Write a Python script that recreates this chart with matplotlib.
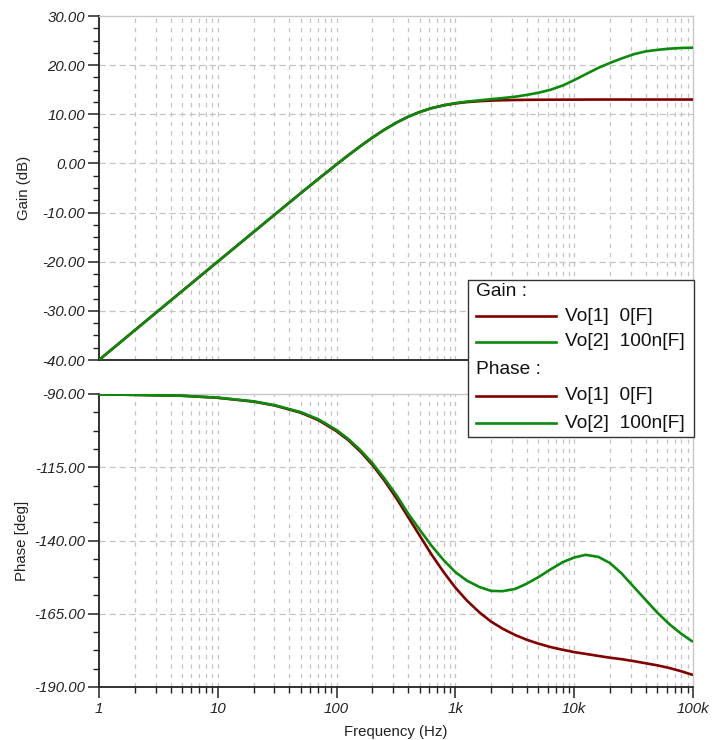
import matplotlib
matplotlib.use("Agg")
import matplotlib.pyplot as plt
from matplotlib.ticker import FixedLocator, NullFormatter, LogLocator, FuncFormatter
from matplotlib.lines import Line2D
from matplotlib.patches import Rectangle

plt.rcParams['font.family'] = ['Liberation Sans', 'DejaVu Sans']

# Frequency sweep (Hz)
freq = [1, 2, 5, 10, 20, 30, 50, 70,
        100, 125, 160, 200, 250, 320, 400, 500, 630, 800,
        1000, 1250, 1600, 2000, 2500, 3200, 4000, 5000, 6300, 8000,
        10000, 12500, 16000, 20000, 25000, 32000, 40000, 50000, 63000, 80000,
        100000]

# Gain (dB)
gain_vo1 = [-40.0, -33.95, -25.99, -19.97, -13.96, -10.45, -6.04, -3.18,
            -0.19, 1.64, 3.58, 5.25, 6.80, 8.32, 9.50, 10.46, 11.24, 11.82,
            12.21, 12.48, 12.67, 12.79, 12.86, 12.91, 12.94, 12.96, 12.97, 12.98,
            12.98, 12.99, 13.0, 13.0, 13.0, 13.0, 13.0, 13.0, 13.0, 13.0,
            13.0]
gain_vo2 = [-40.0, -33.95, -25.99, -19.97, -13.96, -10.45, -6.04, -3.18,
            -0.19, 1.64, 3.58, 5.25, 6.80, 8.32, 9.50, 10.46, 11.25, 11.85,
            12.28, 12.58, 12.84, 13.08, 13.3, 13.58, 13.95, 14.38, 14.98, 15.85,
            16.95, 18.15, 19.45, 20.45, 21.35, 22.25, 22.8, 23.1, 23.35, 23.5,
            23.55]

# Phase (deg)
phase_vo1 = [-90.1, -90.3, -90.6, -91.3, -92.6, -93.9, -96.4, -98.9,
             -102.7, -105.7, -109.8, -114.2, -119.3, -125.7, -132.0, -138.3, -144.8, -150.9,
             -156.1, -160.5, -164.6, -167.7, -170.1, -172.3, -173.9, -175.2, -176.35, -177.3,
             -178.1, -178.7, -179.4, -180.0, -180.5, -181.2, -181.9, -182.6, -183.5, -184.65,
             -185.9]
phase_vo2 = [-90.1, -90.3, -90.6, -91.25, -92.5, -93.8, -96.2, -98.6,
             -102.3, -105.3, -109.3, -113.6, -118.6, -124.6, -130.8, -136.3, -141.8, -146.8,
             -150.8, -153.7, -155.9, -157.2, -157.3, -156.5, -154.7, -152.5, -149.9, -147.4,
             -145.8, -144.9, -145.6, -147.7, -151.2, -156.0, -160.3, -164.6, -168.5, -171.9,
             -174.6]

gain_ticks = [30, 20, 10, 0, -10, -20, -30, -40]
phase_ticks = [-90, -115, -140, -165, -190]
freq_ticks = [1, 10, 100, 1000, 10000, 100000]
freq_labels = ['1', '10', '100', '1k', '10k', '100k']

RED = '#820000'
GREEN = '#0b8a0b'
GRID = '#c4c4c4'
W, H = 722, 740

fig = plt.figure(figsize=(W / 100, H / 100), dpi=100)


def px_rect(l, t, r, b):
    return [l / W, 1 - b / H, (r - l) / W, (b - t) / H]


ax_g = fig.add_axes(px_rect(99, 16, 693, 360))
ax_p = fig.add_axes(px_rect(99, 394, 693, 687))

tick_font = dict(family='Liberation Sans', style='italic', size=10.8)


def style_axes(ax, yticks, ylim, minor_step, show_x):
    ax.set_xscale('log')
    ax.set_xlim(1, 100000)
    ax.set_ylim(*ylim)
    ax.yaxis.set_major_locator(FixedLocator(yticks))
    lo, hi = min(ylim), max(ylim)
    minors = []
    v = lo
    while v <= hi + 1e-9:
        minors.append(v)
        v += minor_step
    ax.yaxis.set_minor_locator(FixedLocator(minors))
    ax.yaxis.set_major_formatter(FuncFormatter(lambda v, p: f"{v:.2f}"))
    ax.yaxis.set_minor_formatter(NullFormatter())
    ax.xaxis.set_major_locator(FixedLocator(freq_ticks))
    ax.xaxis.set_minor_locator(LogLocator(base=10, subs=range(2, 10), numticks=20))
    ax.xaxis.set_minor_formatter(NullFormatter())
    ax.tick_params(axis='y', which='major', direction='out', length=8, width=1.1,
                   pad=2, colors='#222222', labelcolor='#222222')
    ax.tick_params(axis='y', which='minor', direction='out', length=4, width=1.0,
                   colors='#222222')
    for lbl in ax.get_yticklabels():
        lbl.set_fontproperties(tick_font)
    # dashed grid
    for yv in yticks:
        if yv != lo and yv != hi:
            ax.axhline(yv, color=GRID, lw=0.9, ls=(0, (5, 3)), zorder=0)
    for dec in [1, 10, 100, 1000, 10000]:
        for m in range(1, 10):
            x = dec * m
            if x == 1:
                continue
            ax.axvline(x, color=GRID, lw=0.9, ls=(0, (3.5, 4)), zorder=0)
    ax.spines['left'].set_color('#222222')
    ax.spines['left'].set_linewidth(1.3)
    ax.spines['top'].set_color('#c8c8c8')
    ax.spines['top'].set_linewidth(1.0)
    ax.spines['right'].set_color('#c8c8c8')
    ax.spines['right'].set_linewidth(1.0)
    ax.spines['bottom'].set_color('#222222')
    ax.spines['bottom'].set_linewidth(1.3)
    if show_x:
        ax.xaxis.set_major_formatter(FuncFormatter(
            lambda v, p: freq_labels[freq_ticks.index(int(round(v)))] if int(round(v)) in freq_ticks else ''))
        ax.tick_params(axis='x', which='major', direction='out', length=8, width=1.1,
                       pad=3, colors='#222222')
        ax.tick_params(axis='x', which='minor', direction='out', length=4, width=1.0,
                       colors='#222222')
        for lbl in ax.get_xticklabels():
            lbl.set_fontproperties(tick_font)
    else:
        ax.tick_params(axis='x', which='both', length=0, labelbottom=False)


style_axes(ax_g, gain_ticks, (-40, 30), 2.5, False)
style_axes(ax_p, phase_ticks, (-190, -90), 6.25, True)

line_kw = dict(lw=1.9, solid_capstyle='butt', solid_joinstyle='round')
ax_g.plot(freq, gain_vo1, color=RED, zorder=3, **line_kw)
ax_g.plot(freq, gain_vo2, color=GREEN, zorder=4, **line_kw)
ax_p.plot(freq, phase_vo1, color=RED, zorder=3, **line_kw)
ax_p.plot(freq, phase_vo2, color=GREEN, zorder=4, **line_kw)

label_font = dict(family='Liberation Sans', size=10.8, color='#222222')
ax_g.set_ylabel('Gain (dB)', labelpad=8, **label_font)
ax_p.set_ylabel('Phase [deg]', labelpad=4, **label_font)
ax_p.set_xlabel('Frequency (Hz)', labelpad=6, **label_font)


# Legend box spanning both panels
def fx(x):
    return x / W


def fy(y):
    return 1 - y / H


fig.add_artist(Rectangle((fx(468), fy(437)), fx(694) - fx(468), fy(280) - fy(437),
                         transform=fig.transFigure, facecolor='white',
                         edgecolor='#333333', lw=1.0, zorder=10))
leg_font = dict(family='Liberation Sans', size=13.8, color='#111111')
rows = [
    ('Gain :', None, 292),
    ('Vo[1]  0[F]', RED, 316),
    ('Vo[2]  100n[F]', GREEN, 342),
    ('Phase :', None, 370),
    ('Vo[1]  0[F]', RED, 396),
    ('Vo[2]  100n[F]', GREEN, 423),
]
for text, col, y in rows:
    if col is None:
        fig.text(fx(476), fy(y), text, va='center', ha='left', zorder=11, **leg_font)
    else:
        fig.add_artist(Line2D([fx(476), fx(556)], [fy(y), fy(y)], color=col, lw=1.9,
                              transform=fig.transFigure, zorder=11))
        fig.text(fx(565), fy(y), text, va='center', ha='left', zorder=11, **leg_font)

fig.savefig('out.png', dpi=100)
